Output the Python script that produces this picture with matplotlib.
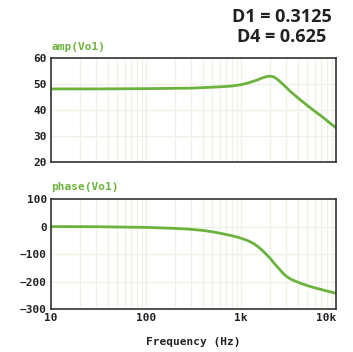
import matplotlib
matplotlib.use('Agg')
import matplotlib.pyplot as plt
from matplotlib.ticker import FixedLocator, LogLocator, NullFormatter

# Data
freq_amp = [10, 30, 100, 300, 600, 800, 1000, 1240, 1450, 1700, 1900, 2000,
            2200, 2400, 2600, 3000, 3300, 4000, 4900, 6000, 7300, 8500, 10000]
amp_vo1 = [48.1, 48.1, 48.2, 48.4, 48.9, 49.2, 49.7, 50.6, 51.4, 52.4, 52.9,
           53.0, 52.8, 51.9, 50.8, 48.7, 47.2, 44.6, 42.0, 39.5, 37.2, 35.2, 33.2]

freq_phase = [10, 30, 100, 200, 300, 400, 500, 600, 800, 1000, 1200, 1350,
              1500, 1700, 1850, 2030, 2200, 2400, 2600, 2770, 3000, 3350, 3800,
              4200, 5000, 5700, 6800, 7900, 10000]
phase_vo1 = [0, -0.5, -3, -6.5, -10, -14, -19, -24, -33, -42, -52, -61,
             -72, -88, -101, -115, -130, -145, -158, -169, -180, -191, -199,
             -205, -214, -220, -227, -233, -242]

x_ticks = [10, 100, 1000, 10000]
x_ticklabels = ['10', '100', '1k', '10k']
amp_ticks = [20, 30, 40, 50, 60]
phase_ticks = [-300, -200, -100, 0, 100]

title_text = 'D1 = 0.3125\nD4 = 0.625'

GREEN = '#6cb33e'
GRID = '#eef1e6'
SPINE = '#333333'

fig = plt.figure(figsize=(3.53, 3.52), dpi=100)
ax_amp = fig.add_axes([0.1445, 0.5398, 0.807, 0.2955])
ax_ph = fig.add_axes([0.1445, 0.1213, 0.807, 0.3134])

mono = {'family': 'DejaVu Sans Mono', 'weight': 'bold', 'size': 8}


def style_axis(ax, yticks, ylim):
    ax.set_xscale('log')
    ax.set_xlim(10, 10000)
    ax.set_ylim(*ylim)
    ax.xaxis.set_major_locator(FixedLocator(x_ticks))
    ax.xaxis.set_minor_locator(LogLocator(base=10, subs=range(2, 10)))
    ax.xaxis.set_minor_formatter(NullFormatter())
    ax.set_yticks(yticks)
    ax.grid(True, which='both', axis='x', color=GRID, lw=0.9)
    ax.grid(True, which='major', axis='y', color=GRID, lw=0.9)
    ax.tick_params(which='both', length=0, pad=3)
    for s in ax.spines.values():
        s.set_color(SPINE)
        s.set_linewidth(1.2)
    for lab in ax.get_yticklabels():
        lab.set_fontproperties(mono)
        lab.set_color('#222222')


style_axis(ax_amp, amp_ticks, (20, 60))
ax_amp.set_xticklabels([])
ax_amp.plot(freq_amp, amp_vo1, color=GREEN, lw=2)
ax_amp.text(0, 1.06, 'amp(Vo1)', transform=ax_amp.transAxes, color=GREEN,
            fontdict=mono, ha='left', va='bottom')

style_axis(ax_ph, phase_ticks, (-300, 100))
ax_ph.set_xticklabels(x_ticklabels)
for lab in ax_ph.get_xticklabels():
    lab.set_fontproperties(mono)
    lab.set_color('#222222')
ax_ph.get_xticklabels()[-1].set_horizontalalignment('right')
ax_ph.get_xticklabels()[-1].set_x(10000)
ax_ph.plot(freq_phase, phase_vo1, color=GREEN, lw=2)
ax_ph.text(0, 1.06, 'phase(Vo1)', transform=ax_ph.transAxes, color=GREEN,
           fontdict=mono, ha='left', va='bottom')
ax_ph.set_xlabel('Frequency (Hz)', fontdict=mono, color='#222222', labelpad=10)

fig.text(282 / 353, 1 - 27 / 352, title_text, ha='center', va='center',
         family='Open Sans', weight='bold', size=13, color='#222222',
         linespacing=1.2)

fig.savefig('out.png', dpi=100)
